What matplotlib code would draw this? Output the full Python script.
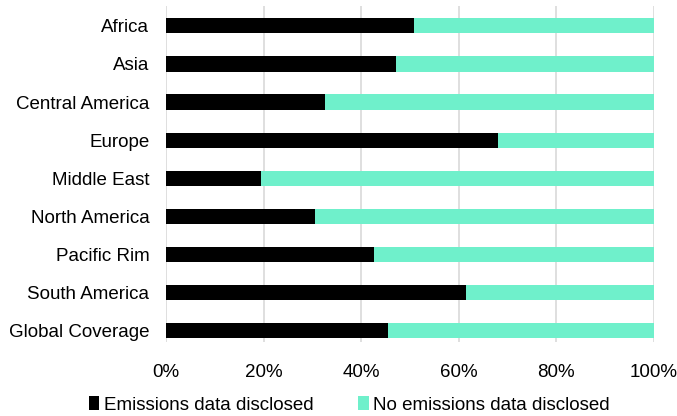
import matplotlib
matplotlib.use("Agg")
import matplotlib.pyplot as plt
from matplotlib.ticker import FuncFormatter

plt.rcParams['font.family'] = ['Liberation Sans', 'DejaVu Sans']

regions = ["Africa", "Asia", "Central America", "Europe", "Middle East",
           "North America", "Pacific Rim", "South America", "Global Coverage"]
disclosed = [50.8, 47.1, 32.5, 68.0, 19.4, 30.6, 42.7, 61.4, 45.4]
not_disclosed = [100 - v for v in disclosed]

series_names = ["Emissions data disclosed", "No emissions data disclosed"]
colors = ["#000000", "#6ff0cb"]

fig = plt.figure(figsize=(6.77, 4.16), dpi=100)
ax = fig.add_axes([0.2452, 0.1786, 0.7208, 0.807])

y = list(range(len(regions)))
ax.barh(y, disclosed, height=0.4, color=colors[0], label=series_names[0], zorder=3)
ax.barh(y, not_disclosed, left=disclosed, height=0.4, color=colors[1],
        label=series_names[1], zorder=3)

ax.set_xlim(0, 100)
ax.set_ylim(8.29, -0.52)
ax.set_yticks(y)
ax.set_yticklabels(regions, fontsize=13.5)
ax.set_xticks([0, 20, 40, 60, 80, 100])
ax.xaxis.set_major_formatter(FuncFormatter(lambda v, p: f"{v:.0f}%"))
ax.tick_params(axis='x', labelsize=13.5, length=0, pad=16)
ax.tick_params(axis='y', length=0, pad=12)
ax.grid(axis='x', color='#d9d9d9', linewidth=1.2, zorder=0)
for s in ax.spines.values():
    s.set_visible(False)

leg = fig.legend(loc='lower center', bbox_to_anchor=(0.516, -0.035), ncol=2,
                 frameon=False, fontsize=13.5, handlelength=0.55, handleheight=0.8,
                 handletextpad=0.25, columnspacing=2.4)

fig.savefig("out.png", dpi=100)
